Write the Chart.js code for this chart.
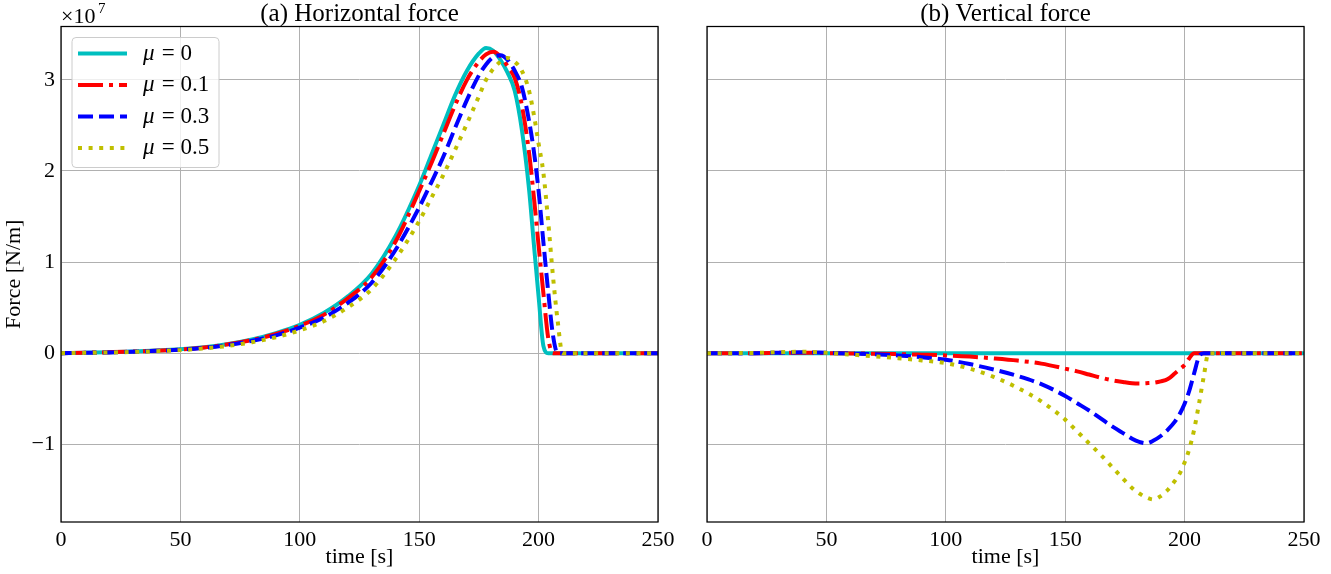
<!DOCTYPE html>
<html lang="en">
<head>
  <meta charset="UTF-8" />
  <title>Horizontal and vertical force</title>
  <script src="https://cdn.jsdelivr.net/npm/chart.js"></script>
  <style>
    body { margin: 0; background: #fff; }
    .wrap { position: relative; width: 1331px; height: 574px; }
    #left { position: absolute; left: 0; top: 0; }
    #right { position: absolute; left: 680px; top: 0; }
  </style>
</head>
<body>
  <div class="wrap">
    <canvas id="left" width="680" height="574"></canvas>
    <canvas id="right" width="651" height="574"></canvas>
  </div>

  <script>
    // values in units of 1e7 N/m
    const time = [0, 10, 20, 30, 40, 50, 60, 70, 80, 90, 100, 110, 120, 130, 140, 150, 155, 160, 165, 170,
                  175, 178, 181, 184, 187, 190, 193, 196, 198, 200, 202, 204, 206, 208, 210, 212, 230, 250];
    const muLabels = ['0', '0.1', '0.3', '0.5'];

    const horiz0 = [0, 0.005, 0.01, 0.018, 0.028, 0.042, 0.065, 0.1, 0.15, 0.22, 0.31, 0.44, 0.62, 0.87, 1.28, 1.84, 2.17, 2.5, 2.83, 3.1,
                    3.29, 3.35, 3.32, 3.22, 3.08, 2.88, 2.45, 1.8, 1.2, 0.62, 0.08, 0, 0, 0, 0, 0, 0, 0];
    const horiz1 = [0, 0.004, 0.01, 0.017, 0.027, 0.04, 0.063, 0.097, 0.145, 0.21, 0.3, 0.42, 0.6, 0.83, 1.22, 1.78, 2.08, 2.4, 2.72, 3.0,
                    3.2, 3.28, 3.31, 3.26, 3.15, 3.02, 2.72, 2.2, 1.72, 1.18, 0.66, 0.17, 0, 0, 0, 0, 0, 0];
    const horiz3 = [0, 0.003, 0.008, 0.015, 0.025, 0.037, 0.058, 0.09, 0.135, 0.195, 0.28, 0.39, 0.55, 0.77, 1.13, 1.6, 1.87, 2.15, 2.47, 2.78,
                    3.05, 3.17, 3.25, 3.27, 3.22, 3.1, 2.92, 2.55, 2.22, 1.78, 1.22, 0.68, 0.2, 0, 0, 0, 0, 0];
    const horiz5 = [0, 0.003, 0.007, 0.013, 0.022, 0.033, 0.052, 0.08, 0.12, 0.175, 0.25, 0.35, 0.5, 0.7, 1.03, 1.45, 1.7, 1.95, 2.23, 2.52,
                    2.82, 3.0, 3.12, 3.2, 3.24, 3.2, 3.1, 2.88, 2.62, 2.3, 1.98, 1.45, 0.85, 0.35, 0, 0, 0, 0];

    const vert0 = [0, 0, 0, 0, 0, 0, 0, 0, 0, 0, 0, 0, 0, 0, 0, 0, 0, 0, 0, 0,
                   0, 0, 0, 0, 0, 0, 0, 0, 0, 0, 0, 0, 0, 0, 0, 0, 0, 0];
    const vert1 = [0, 0, 0, 0.003, 0.005, 0, -0.003, -0.006, -0.01, -0.017, -0.025, -0.038, -0.058, -0.082, -0.115, -0.17, -0.2, -0.235, -0.27, -0.3,
                   -0.32, -0.33, -0.333, -0.33, -0.325, -0.31, -0.285, -0.22, -0.175, -0.13, -0.055, 0, 0, 0, 0, 0, 0, 0];
    const vert3 = [0, 0, 0, 0.005, 0.01, 0.003, -0.005, -0.012, -0.025, -0.045, -0.073, -0.12, -0.18, -0.25, -0.34, -0.47, -0.55, -0.63, -0.72, -0.81,
                   -0.89, -0.94, -0.975, -0.99, -0.96, -0.91, -0.84, -0.75, -0.665, -0.555, -0.41, -0.22, -0.04, 0, 0, 0, 0, 0];
    const vert5 = [0, 0, 0.003, 0.01, 0.015, 0.003, -0.015, -0.035, -0.055, -0.08, -0.11, -0.17, -0.26, -0.38, -0.53, -0.73, -0.86, -0.99, -1.12, -1.26,
                   -1.4, -1.48, -1.54, -1.585, -1.607, -1.57, -1.5, -1.4, -1.32, -1.2, -1.05, -0.84, -0.56, -0.26, 0, 0, 0, 0];

    const xTicks = [0, 50, 100, 150, 200, 250];
    const yTicks = [-1, 0, 1, 2, 3];

    const colors = ['#00bfbf', '#ff0000', '#0000ff', '#bfbf00'];
    const dashes = [[], [25, 6, 4, 6], [15, 6], [4, 6.6]];
    const serif = "'Liberation Serif', 'DejaVu Serif', serif";

    function makeSets(series) {
      return series.map((vals, i) => ({
        label: muLabels[i],
        data: time.map((t, k) => ({ x: t, y: vals[k] })),
        borderColor: colors[i],
        borderDash: dashes[i],
        borderWidth: 4,
        borderCapStyle: 'butt',
        pointRadius: 0,
        cubicInterpolationMode: 'monotone',
        order: series.length - i
      }));
    }

    const framePlugin = {
      id: 'frame',
      afterDatasetsDraw(chart) {
        const a = chart.chartArea;
        const c = chart.ctx;
        c.save();
        c.strokeStyle = '#000';
        c.lineWidth = 1.25;
        c.strokeRect(a.left, a.top, a.right - a.left, a.bottom - a.top);
        c.restore();
      }
    };

    const legendPlugin = {
      id: 'muLegend',
      afterDraw(chart) {
        const a = chart.chartArea;
        const c = chart.ctx;
        const x0 = a.left + 11, y0 = a.top + 11, w = 147, h = 130;
        c.save();
        c.beginPath();
        c.roundRect(x0, y0, w, h, 4);
        c.fillStyle = 'rgba(255,255,255,0.8)';
        c.fill();
        c.strokeStyle = '#cccccc';
        c.lineWidth = 1;
        c.stroke();
        chart.data.datasets.forEach((ds, i) => {
          const y = y0 + 16 + i * 31.5;
          c.beginPath();
          c.setLineDash(ds.borderDash);
          c.strokeStyle = ds.borderColor;
          c.lineWidth = 4;
          c.moveTo(x0 + 6, y);
          c.lineTo(x0 + 55, y);
          c.stroke();
          c.setLineDash([]);
          c.fillStyle = '#000';
          c.textBaseline = 'middle';
          c.font = 'italic 23px ' + serif;
          c.fillText('\u03bc', x0 + 71, y);
          c.font = '23px ' + serif;
          c.fillText(' = ' + ds.label, x0 + 84, y);
        });
        // offset label
        c.textBaseline = 'alphabetic';
        c.font = '22px ' + serif;
        c.fillText('\u00d710', a.left, 23);
        c.font = '15px ' + serif;
        c.fillText('7', a.left + 37, 13);
        c.restore();
      }
    };

    function makeChart(id, series, title, showY, yWidth, padRight, extra) {
      return new Chart(document.getElementById(id), {
        type: 'line',
        data: { datasets: makeSets(series) },
        options: {
          responsive: false,
          animation: false,
          layout: { padding: { left: 0, right: padRight, top: 0, bottom: 0 } },
          plugins: {
            legend: { display: false },
            tooltip: { enabled: false },
            title: {
              display: true,
              text: title,
              fullSize: false,
              color: '#000',
              font: { family: serif, size: 25, weight: 'normal', lineHeight: 0.94 },
              padding: { top: 3, bottom: 0 }
            }
          },
          scales: {
            x: {
              type: 'linear',
              min: 0,
              max: 250,
              afterBuildTicks: s => { s.ticks = xTicks.map(v => ({ value: v })); },
              afterFit: s => { s.height = 52; },
              grid: { color: '#b0b0b0', lineWidth: 1, drawTicks: false },
              border: { display: false },
              ticks: { color: '#000', padding: 5, font: { family: serif, size: 22 } },
              title: { display: true, text: 'time [s]', color: '#000', padding: { top: 0, bottom: 4 },
                       font: { family: serif, size: 22, lineHeight: 1.2 } }
            },
            y: {
              type: 'linear',
              min: -1.854,
              max: 3.586,
              afterBuildTicks: s => { s.ticks = yTicks.map(v => ({ value: v })); },
              afterFit: s => { s.width = yWidth; },
              grid: { color: '#b0b0b0', lineWidth: 1, drawTicks: false },
              border: { display: false },
              ticks: {
                color: '#000',
                padding: 6,
                font: { family: serif, size: 22 },
                callback: v => showY ? (v < 0 ? '\u2212' + Math.abs(v) : String(v)) : ''
              },
              title: { display: showY, text: 'Force [N/m]', color: '#000', padding: { top: 1, bottom: 0 },
                       font: { family: serif, size: 22, lineHeight: 1.2 } }
            }
          }
        },
        plugins: [framePlugin].concat(extra)
      });
    }

    makeChart('left', [horiz0, horiz1, horiz3, horiz5], '(a) Horizontal force', true, 61, 22, [legendPlugin]);
    makeChart('right', [vert0, vert1, vert3, vert5], '(b) Vertical force', false, 27, 27, []);
  </script>
</body>
</html>
